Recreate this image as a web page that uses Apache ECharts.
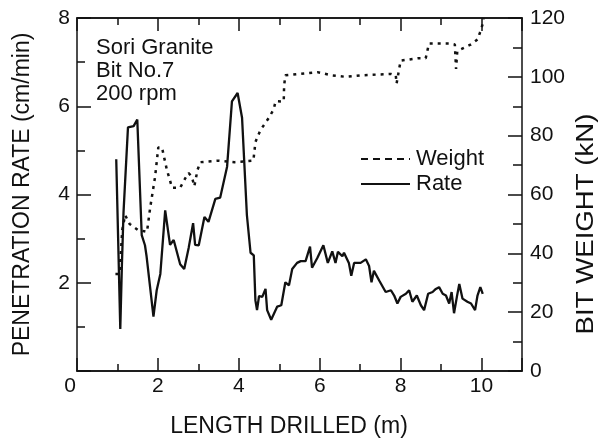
<!DOCTYPE html>
<html>
<head>
<meta charset="utf-8">
<script src="https://cdn.jsdelivr.net/npm/echarts@6/dist/echarts.min.js"></script>
<style>
  html, body { margin: 0; padding: 0; background: #fff; }
  #chart { width: 605px; height: 443px; }
</style>
</head>
<body>
<div id="chart"></div>
<script>
// length drilled (m) and penetration rate (cm/min)
const rateDepth = [0.97, 1.07, 1.11, 1.15, 1.26, 1.40, 1.49, 1.60, 1.68, 1.72, 1.89, 1.97, 2.06, 2.18, 2.30, 2.39,
  2.55, 2.65, 2.76, 2.87, 2.92, 3.01, 3.15, 3.25, 3.42, 3.54, 3.71, 3.83, 3.97, 4.08, 4.20, 4.29, 4.37, 4.41, 4.45,
  4.50, 4.58, 4.66, 4.70, 4.80, 4.95, 5.05, 5.15, 5.24, 5.32, 5.44, 5.53, 5.65, 5.76, 5.81, 5.94, 6.09, 6.20, 6.31,
  6.39, 6.45, 6.56, 6.60, 6.72, 6.78, 6.85, 7.01, 7.14, 7.22, 7.28, 7.34, 7.47, 7.51, 7.63, 7.76, 7.84, 7.92, 8.00,
  8.13, 8.21, 8.29, 8.40, 8.50, 8.58, 8.68, 8.79, 8.87, 8.95, 9.04, 9.12, 9.20, 9.26, 9.32, 9.39, 9.45, 9.53, 9.65,
  9.74, 9.84, 9.90, 9.97, 10.03];
const rateValues = [4.80, 0.95, 2.40, 3.60, 5.52, 5.55, 5.70, 3.08, 2.85, 2.60, 1.23, 1.83, 2.20, 3.64, 2.86, 2.97,
  2.42, 2.31, 2.79, 3.35, 2.86, 2.85, 3.49, 3.38, 3.90, 3.93, 4.63, 6.11, 6.30, 5.74, 3.53, 2.68, 2.62, 1.60, 1.38,
  1.70, 1.68, 1.86, 1.38, 1.16, 1.46, 1.49, 2.01, 1.94, 2.31, 2.45, 2.49, 2.49, 2.82, 2.34, 2.56, 2.85, 2.45, 2.71,
  2.45, 2.70, 2.60, 2.68, 2.45, 2.16, 2.45, 2.45, 2.53, 2.38, 2.01, 2.27, 2.05, 2.08, 1.79, 1.83, 1.71, 1.53, 1.68,
  1.75, 1.83, 1.57, 1.71, 1.49, 1.38, 1.75, 1.79, 1.86, 1.90, 1.75, 1.71, 1.53, 1.79, 1.31, 1.68, 1.97, 1.64, 1.57,
  1.53, 1.38, 1.71, 1.90, 1.75];

// length drilled (m) and bit weight (kN)
const weightDepth = [0.95, 1.05, 1.12, 1.19, 1.30, 1.50, 1.73, 1.81, 1.93, 2.01, 2.10, 2.22, 2.35, 2.55, 2.68, 2.76,
  2.84, 2.90, 2.98, 3.05, 3.50, 3.90, 4.36, 4.41, 4.53, 4.66, 4.74, 4.86, 4.91, 5.11, 5.12, 5.15, 5.94, 6.30, 6.64,
  7.00, 7.76, 7.88, 7.90, 8.00, 8.42, 8.62, 8.66, 8.70, 9.24, 9.34, 9.37, 9.40, 9.74, 9.90, 9.96, 10.03, 10.05];
const weightValues = [33, 33, 48, 53, 50, 48, 47.3, 55.6, 66, 76, 76, 68.5, 62.3, 62.3, 65.6, 67.3,
  66, 62.8, 68.4, 71, 71.5, 71, 71.5, 77.8, 81.8, 84.4, 86, 88.9, 91.7, 91.6, 97, 100.5, 101.6, 100.5, 100,
  100.5, 101, 100.5, 97.7, 105.5, 106.3, 106.3, 108.8, 111.3, 111.3, 111, 102.7, 108.8, 111, 112.7, 115, 118, 120];

const xMajorTicks = [0, 2, 4, 6, 8, 10];
const noteLines = ["Sori Granite", "Bit No.7", "200 rpm"];

const FONT = "'Liberation Sans', Arial, sans-serif";
const INK = "#111";

const chart = echarts.init(document.getElementById("chart"), null, { renderer: "canvas" });

function xAxisDef(position, interval, tickLen, withLabels){
  return {
    type: "value",
    position,
    min: 0,
    max: 11,
    interval,
    splitLine: { show: false },
    axisLine: { show: true, onZero: false, lineStyle: { color: INK, width: 1.5 } },
    axisTick: { show: true, inside: true, length: tickLen, lineStyle: { color: INK, width: 1.5 } },
    axisLabel: {
      show: withLabels,
      margin: 5,
      color: INK,
      fontFamily: FONT,
      fontSize: 21,
      formatter: (v) => xMajorTicks.includes(v) ? (v === 0 ? "{z|0}" : String(v)) : "",
      rich: { z: { fontFamily: FONT, fontSize: 21, color: INK, padding: [0, 14, 0, 0] } }
    }
  };
}

const option = {
  animation: false,
  backgroundColor: "#fff",
  grid: { left: 77, right: 83, top: 18, bottom: 64 },
  legend: {
    orient: "vertical",
    left: 355,
    top: 143,
    itemWidth: 49,
    itemHeight: 22,
    itemGap: 3,
    itemStyle: { color: "rgba(0,0,0,0)", borderWidth: 0 },
    data: [
      { name: "Weight", lineStyle: { type: [7, 5], width: 2 } },
      { name: "Rate", lineStyle: { type: "solid", width: 2 } }
    ],
    textStyle: { color: INK, fontFamily: FONT, fontSize: 22, padding: [0, 0, 0, 1] }
  },
  graphic: [
    {
      type: "text",
      left: 96,
      top: 36,
      style: {
        text: noteLines.join("\n"),
        fill: INK,
        font: `22px ${FONT}`,
        lineHeight: 23
      }
    },
    {
      type: "text",
      x: 587,
      y: 224,
      rotation: Math.PI / 2,
      scaleX: 1.2,
      style: {
        text: "BIT WEIGHT (kN)",
        fill: INK,
        font: `23px ${FONT}`,
        align: "center",
        verticalAlign: "middle"
      }
    }
  ],
  xAxis: [
    Object.assign(xAxisDef("bottom", 2, 13, true), {
      name: "LENGTH DRILLED (m)",
      nameLocation: "middle",
      nameGap: 44,
      nameTextStyle: { color: INK, fontFamily: FONT, fontSize: 23, padding: [0, 21, 0, 0] }
    }),
    xAxisDef("bottom", 1, 7, false),
    xAxisDef("top", 2, 13, false),
    xAxisDef("top", 1, 7, false)
  ],
  yAxis: [
    {
      type: "value",
      position: "left",
      min: 0,
      max: 8,
      interval: 2,
      name: "PENETRATION RATE (cm/min)",
      nameLocation: "middle",
      nameRotate: 90,
      nameGap: 43,
      nameTextStyle: { color: INK, fontFamily: FONT, fontSize: 23 },
      splitLine: { show: false },
      axisLine: { show: true, onZero: false, lineStyle: { color: INK, width: 1.5 } },
      axisTick: { show: true, inside: true, length: 14, lineStyle: { color: INK, width: 1.5 } },
      minorTick: { show: true, splitNumber: 2, length: 8, lineStyle: { color: INK, width: 1.5 } },
      axisLabel: { margin: 7, showMinLabel: false, color: INK, fontFamily: FONT, fontSize: 21 }
    },
    {
      type: "value",
      position: "right",
      min: 0,
      max: 120,
      interval: 20,
      splitLine: { show: false },
      axisLine: { show: true, onZero: false, lineStyle: { color: INK, width: 1.5 } },
      axisTick: { show: true, inside: true, length: 14, lineStyle: { color: INK, width: 1.5 } },
      minorTick: { show: true, splitNumber: 2, length: 9, lineStyle: { color: INK, width: 1.5 } },
      axisLabel: { margin: 8, color: INK, fontFamily: FONT, fontSize: 21 }
    }
  ],
  series: [
    {
      name: "Weight",
      type: "line",
      xAxisIndex: 0,
      yAxisIndex: 1,
      symbol: "none",
      lineStyle: { color: INK, width: 2.5, type: [3, 5] },
      itemStyle: { color: INK },
      data: weightDepth.map((d, i) => [d, weightValues[i]])
    },
    {
      name: "Rate",
      type: "line",
      xAxisIndex: 0,
      yAxisIndex: 0,
      symbol: "none",
      lineStyle: { color: INK, width: 2.3 },
      itemStyle: { color: INK },
      data: rateDepth.map((d, i) => [d, rateValues[i]])
    }
  ]
};

chart.setOption(option);
</script>
</body>
</html>
